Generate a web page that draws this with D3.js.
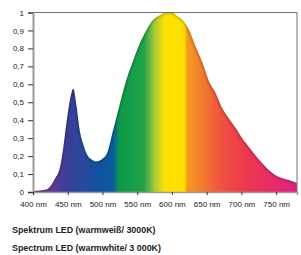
<!DOCTYPE html>
<html>
<head>
<meta charset="utf-8">
<script src="https://cdn.jsdelivr.net/npm/d3@7"></script>
<style>
  body { margin:0; background:#fff; }
  svg { display:block; font-family:"Liberation Sans", Arial, sans-serif; }
</style>
</head>
<body>
<div id="chart"></div>
<script>
// spectrum (nm -> relative intensity)
var wavelengths = [400, 410, 420, 431, 439, 443, 448, 453, 458, 463, 467, 472, 479, 485, 491, 500, 507, 515, 525, 534, 544, 554, 563, 572, 582, 592, 600, 606, 618, 625, 634, 644, 653, 663, 672, 682, 692, 701, 711, 720, 730, 740, 749, 759, 768, 780];
var intensity   = [0.005, 0.008, 0.015, 0.07, 0.14, 0.23, 0.38, 0.51, 0.575, 0.47, 0.35, 0.27, 0.2, 0.18, 0.17, 0.185, 0.22, 0.34, 0.49, 0.62, 0.73, 0.83, 0.9, 0.955, 0.983, 1.0, 1.0, 0.985, 0.946, 0.9, 0.81, 0.72, 0.62, 0.55, 0.47, 0.41, 0.355, 0.3, 0.25, 0.205, 0.16, 0.12, 0.094, 0.077, 0.067, 0.05];

var yTicks = [0, 0.1, 0.2, 0.3, 0.4, 0.5, 0.6, 0.7, 0.8, 0.9, 1];
var xTicks = [400, 450, 500, 550, 600, 650, 700, 750];
var titles = ["Spektrum LED (warmweiß/ 3000K)", "Spectrum LED (warmwhite/ 3 000K)"];

// colour of the fill along the wavelength axis
var stopNm     = [400, 430, 450, 475, 495, 515, 525, 560, 575, 590, 618, 622, 645, 670, 700, 735, 780];
var stopColors = ["#7a3e98", "#5c3a96", "#383f98", "#274a9e", "#0f52a0", "#0d5aa0", "#0c9a48", "#22a347", "#a6c83a", "#ffe300", "#ffdc00", "#f59a1e", "#f27a2e", "#ef5340", "#ec3d4c", "#ea2d60", "#df2184"];

var W = 301, H = 255;
var mLeft = 33, mRight = 297, mTop = 12.5, mBottom = 192;

var svg = d3.select("#chart").append("svg")
    .attr("width", W).attr("height", H);

var x = d3.scaleLinear().domain([400, 780]).range([mLeft, mRight]);
var y = d3.scaleLinear().domain([0, 1]).range([mBottom, mTop]);

var data = wavelengths.map(function(d, i){ return {nm: d, v: intensity[i]}; });

var area = d3.area().curve(d3.curveMonotoneX)
    .x(function(d){ return x(d.nm); })
    .y0(mBottom)
    .y1(function(d){ return y(d.v); });
var line = d3.line().curve(d3.curveMonotoneX)
    .x(function(d){ return x(d.nm); })
    .y(function(d){ return y(d.v); });

var defs = svg.append("defs");
var grad = defs.append("linearGradient")
    .attr("id", "spec")
    .attr("gradientUnits", "userSpaceOnUse")
    .attr("x1", x(400)).attr("x2", x(780))
    .attr("y1", 0).attr("y2", 0);
stopNm.forEach(function(d, i){
    grad.append("stop")
        .attr("offset", (d - 400) / 380)
        .attr("stop-color", stopColors[i]);
});
defs.append("filter").attr("id", "soft")
    .append("feGaussianBlur").attr("stdDeviation", 0.9);
defs.append("clipPath").attr("id", "clipArea")
    .append("path").datum(data).attr("d", area);

svg.append("path").datum(data)
    .attr("d", area)
    .attr("fill", "url(#spec)");

// darker rim along the edge of the curve
svg.append("g").attr("clip-path", "url(#clipArea)")
  .append("path").datum(data)
    .attr("d", line)
    .attr("fill", "none")
    .attr("stroke", "#000")
    .attr("stroke-opacity", 0.22)
    .attr("stroke-width", 3)
    .attr("filter", "url(#soft)");

// frame top / right
svg.append("path")
    .attr("d", "M" + mLeft + "," + mTop + "H" + mRight + "V" + mBottom)
    .attr("fill", "none")
    .attr("stroke", "#707070")
    .attr("stroke-width", 1);

// y axis
var yAxis = svg.append("g")
    .attr("transform", "translate(" + mLeft + ",0)")
    .call(d3.axisLeft(y).tickValues(yTicks).tickSize(5).tickPadding(4)
        .tickFormat(function(d){ return d === 0 ? "0" : d === 1 ? "1" : d3.format(".1f")(d).replace(".", ","); }));
yAxis.select(".domain").attr("stroke", "#9a9a9a").attr("stroke-width", 2);
yAxis.selectAll(".tick line").attr("stroke", "#333");
yAxis.selectAll("text").attr("font-size", 8).attr("fill", "#222");

// x axis
var xAxis = svg.append("g")
    .attr("transform", "translate(0," + mBottom + ")")
    .call(d3.axisBottom(x).tickValues(xTicks).tickSize(3).tickPadding(6)
        .tickFormat(function(d){ return d + " nm"; }));
xAxis.select(".domain").attr("stroke", "#9a9a9a").attr("stroke-width", 1.5);
xAxis.selectAll(".tick line").attr("stroke", "#333");
xAxis.selectAll("text").attr("font-size", 8).attr("fill", "#222");

svg.selectAll(".title").data(titles).enter()
  .append("text")
    .attr("x", 12)
    .attr("y", function(d, i){ return 232.5 + i * 18; })
    .attr("font-size", 8.9)
    .attr("font-weight", "bold")
    .attr("fill", "#222")
    .text(function(d){ return d; });
</script>
</body>
</html>
